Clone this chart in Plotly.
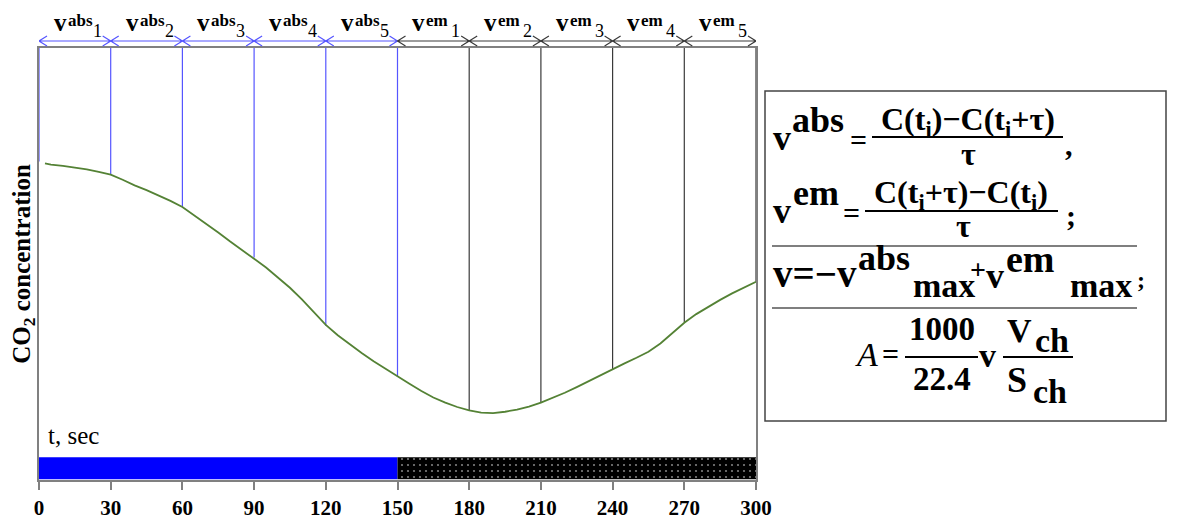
import plotly.graph_objects as go

SERIF = "Liberation Serif"

# CO2 trace, arbitrary units (0 = bottom of frame, 100 = top)
time_s = [2.5, 5, 10, 15, 20, 25, 30, 35, 40, 45, 50, 55, 60, 65, 70, 75, 80, 85, 90, 95,
          100, 105, 110, 115, 120, 125, 130, 135, 140, 145, 150, 155, 160, 165, 170, 175, 180,
          185, 190, 195, 200, 205, 210, 215, 220, 225, 230, 235, 240, 245, 250, 255, 260, 265,
          270, 275, 280, 285, 290, 295, 300]
co2 = [73.3, 73.0, 72.7, 72.3, 71.9, 71.3, 70.7, 69.5, 68.2, 67.1, 65.9, 64.6, 63.2, 61.3, 59.3, 57.3, 55.2, 53.1, 51.2, 49.2,
       46.9, 44.5, 41.8, 38.8, 35.9, 33.5, 31.4, 29.4, 27.5, 25.7, 24.0, 22.3, 20.6, 19.1, 17.9, 16.9, 16.1,
       15.6, 15.5, 15.8, 16.3, 17.0, 17.9, 19.0, 20.2, 21.5, 22.9, 24.3, 25.6, 27.0, 28.3, 29.7, 31.6, 34.0,
       36.4, 38.4, 40.1, 41.7, 43.2, 44.6, 45.9]

# interval boundaries (s) and where each vertical marker meets the curve
boundaries = [0, 30, 60, 90, 120, 150, 180, 210, 240, 270, 300]
marker_ends = [73.7, 70.8, 63.3, 51.5, 35.7, 23.9, 16.0, 18.0, 25.6, 36.6, 45.9]
interval_kind = ["abs", "abs", "abs", "abs", "abs", "em", "em", "em", "em", "em"]
interval_num = ["1", "2", "3", "4", "5", "1", "2", "3", "4", "5"]

# phase bar under the curve: absorption (light) then emission (dark)
phase_start = [0, 150]
phase_len = [150, 150]
phase_colors = ["#0000ff", "#000000"]
phase_pattern = ["", "."]

BLUE_LINE = "#5555ff"
DARK_LINE = "#3a3a3a"

# page is shown with the browser's 8px body margin, so the figure is 16px smaller
PAGE_OFF = 8
W, H = 1181 - 2 * PAGE_OFF, 532 - 2 * PAGE_OFF
PL, PR, PT, PB = 39, 756, 48, 480  # plot frame in page pixels


def px(p):
    return (p - PL) / (PR - PL)


def py(p):
    return (PB - p) / (PB - PT)


def drops(xs, ends):
    x, y = [], []
    for b, e in zip(xs, ends):
        x += [b, b, None]
        y += [100, e, None]
    return x, y


fig = go.Figure()

fig.add_trace(go.Bar(orientation="h", y=[2.7, 2.7], x=phase_len, base=phase_start, width=[5.1, 5.1],
                     marker=dict(color=phase_colors, line_width=0,
                                 pattern=dict(shape=phase_pattern, fgcolor="#b0b0b0", size=6, solidity=0.1)),
                     hoverinfo="skip"))

bx, by = drops(boundaries[:6], marker_ends[:6])
fig.add_trace(go.Scatter(x=bx, y=by, mode="lines", line=dict(color=BLUE_LINE, width=1.2), hoverinfo="skip"))
kx, ky = drops(boundaries[6:], marker_ends[6:])
fig.add_trace(go.Scatter(x=kx, y=ky, mode="lines", line=dict(color=DARK_LINE, width=1.2), hoverinfo="skip"))

fig.add_trace(go.Scatter(x=time_s, y=co2, mode="lines", line=dict(color="#548235", width=1.8)))


def txt(s, x, base, size, anchor="left", bold=True, italic=False):
    return dict(text=s, xref="paper", yref="paper", x=px(x), y=py(base - 0.891 * size),
                xanchor=anchor, yanchor="top", showarrow=False, borderpad=0, borderwidth=0,
                font=dict(family=SERIF, size=size, color="black",
                          weight="bold" if bold else "normal",
                          style="italic" if italic else "normal"))


ann = []
shapes = []

# interval labels and double arrows above the frame
arrow_y = py(41)
ah_x, ah_y = 3.35, 5 / (PB - PT)
for i in range(len(interval_kind)):
    a, b = boundaries[i], boundaries[i + 1]
    c = (a + b) / 2
    col = BLUE_LINE if interval_kind[i] == "abs" else DARK_LINE
    path = (f"M {a + ah_x},{arrow_y + ah_y} L {a},{arrow_y} L {a + ah_x},{arrow_y - ah_y} "
            f"M {a},{arrow_y} L {b},{arrow_y} "
            f"M {b - ah_x},{arrow_y + ah_y} L {b},{arrow_y} L {b - ah_x},{arrow_y - ah_y}")
    shapes.append(dict(type="path", xref="x", yref="paper", path=path, line=dict(color=col, width=1.2)))
    for s, dx, base, size, bold in [("v", -21, 31, 25, True),
                                    (interval_kind[i], -7, 26, 17, True),
                                    (interval_num[i], 18, 37, 18, False)]:
        ann.append(dict(text=s, xref="x", x=c, xshift=dx, xanchor="left",
                        yref="paper", y=py(base - 0.891 * size), yanchor="top",
                        showarrow=False, borderpad=0, borderwidth=0,
                        font=dict(family=SERIF, size=size, color="black",
                                  weight="bold" if bold else "normal")))

ann.append(dict(text="t, sec", xref="x", x=3.6, yref="y", y=13.4, xanchor="left", yanchor="top",
                showarrow=False, borderpad=0, borderwidth=0,
                font=dict(family=SERIF, size=25, color="black")))

# formula box
ann += [
    txt("v", 773, 150, 36), txt("abs", 792, 132, 36), txt("=", 858, 150, 30, "center"),
    txt("C(t<sub>i</sub>)−C(t<sub>i</sub>+τ)", 968, 130, 32, "center"),
    txt("τ", 968, 165, 32, "center"), txt(",", 1065, 155, 30),
    txt("v", 773, 223, 36), txt("em", 793, 205, 36), txt("=", 852, 223, 30, "center"),
    txt("C(t<sub>i</sub>+τ)−C(t<sub>i</sub>)", 961, 203, 32, "center"),
    txt("τ", 963, 237, 32, "center"), txt(";", 1066, 226, 30),
    txt("v=−v", 773, 287, 39), txt("abs", 858, 270, 36), txt("max", 913, 297, 34),
    txt("+", 978, 279, 28, "center"), txt("v", 986, 288, 36), txt("em", 1006, 272, 38),
    txt("max", 1070, 297, 34), txt(";", 1137, 288, 24),
    txt("A", 855, 366, 34, bold=False, italic=True), txt("=", 890, 364, 30, "center"),
    txt("1000", 942, 340, 33, "center"), txt("22.4", 942, 390, 33, "center"),
    txt("v", 979, 367, 34), txt("V", 1007, 342, 34), txt("ch", 1035, 352, 34),
    txt("S", 1007, 392, 36), txt("ch", 1033, 403, 34),
]

for x0, x1, yy, w, col in [(872, 1063, 137, 2, "black"), (865, 1058, 211, 2, "black"),
                           (905, 978, 357, 2, "black"), (1003, 1073, 357, 2, "black"),
                           (772, 1137, 246, 1.3, "#555555"), (772, 1137, 308, 1.3, "#555555")]:
    shapes.append(dict(type="line", xref="paper", yref="paper", x0=px(x0), x1=px(x1),
                       y0=py(yy), y1=py(yy), line=dict(color=col, width=w)))
shapes.append(dict(type="rect", xref="paper", yref="paper", x0=px(765), x1=px(1166),
                   y0=py(421), y1=py(91), line=dict(color="#444444", width=1.5)))

fig.update_layout(
    width=W, height=H,
    margin=dict(l=PL - PAGE_OFF, r=W - (PR - PAGE_OFF), t=PT - PAGE_OFF, b=H - (PB - PAGE_OFF),
                autoexpand=False),
    plot_bgcolor="white", paper_bgcolor="white", showlegend=False, barmode="overlay",
    annotations=ann, shapes=shapes,
    xaxis=dict(range=[0, 300], tickvals=boundaries, ticks="outside", ticklen=8, tickwidth=1.5,
               tickcolor="#808080", showline=True, mirror=True, linecolor="#808080", linewidth=1.5,
               showgrid=False, zeroline=False, automargin=False,
               tickfont=dict(family=SERIF, size=21, color="black", weight="bold")),
    yaxis=dict(range=[0, 100], showticklabels=False, ticks="", showline=True, mirror=True,
               linecolor="#808080", linewidth=1.5, showgrid=False, zeroline=False, automargin=False,
               title=dict(text="CO<sub>2</sub> concentration", standoff=4,
                          font=dict(family=SERIF, size=25, color="black", weight="bold"))),
)

fig.write_html("out.html")
